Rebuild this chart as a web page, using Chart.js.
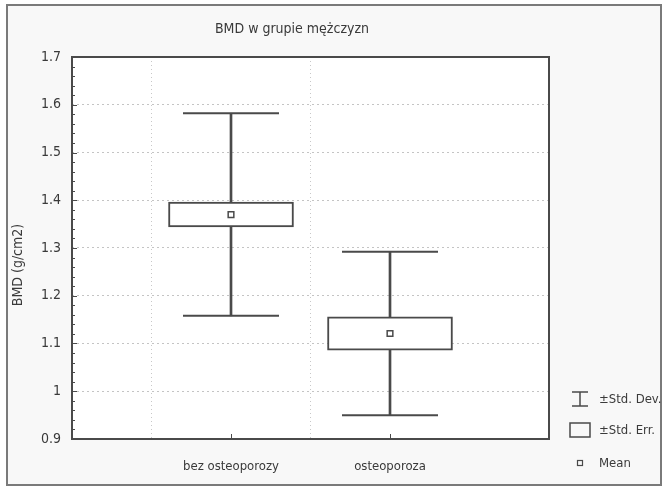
<!DOCTYPE html>
<html>
<head>
<meta charset="utf-8">
<script src="https://cdn.jsdelivr.net/npm/chart.js@4/dist/chart.umd.min.js"></script>
<style>
  html, body { margin: 0; padding: 0; background: #ffffff; }
  canvas { display: block; }
</style>
</head>
<body>
<canvas id="c" width="667" height="489"></canvas>
<script>
// Groups and summary statistics of BMD (g/cm2)
const categories = ['bez osteoporozy', 'osteoporoza'];
const means = [1.370, 1.121];
const stdErr = [0.026, 0.035];
const stdDev = [0.212, 0.171];

const yTickValues = [0.9, 1.0, 1.1, 1.2, 1.3, 1.4, 1.5, 1.6, 1.7];
const yTickLabels = ['0.9', '1', '1.1', '1.2', '1.3', '1.4', '1.5', '1.6', '1.7'];

const chartTitle = 'BMD w grupie mężczyzn';
const yAxisTitle = 'BMD (g/cm2)';

// Empty slots at both ends keep the two groups at 1/3 and 2/3 of the width
const xLabels = ['', ...categories, ''];

const INK = '#4a4a4a';
const TEXT = '#3a3a3a';
const FONT = '"DejaVu Sans Condensed", "Liberation Sans Narrow", "Arial Narrow", "Liberation Sans", Arial, sans-serif';

function slot(values) {
  return [null, ...values, null];
}

const sdRanges = slot(means.map((m, i) => [m - stdDev[i], m + stdDev[i]]));
const seRanges = slot(means.map((m, i) => [m - stdErr[i], m + stdErr[i]]));
const capPoints = [];
categories.forEach((c, i) => {
  capPoints.push({ x: c, y: means[i] + stdDev[i] });
  capPoints.push({ x: c, y: means[i] - stdDev[i] });
});
const meanPoints = categories.map((c, i) => ({ x: c, y: means[i] }));

// Background, outer frame, plot frame, titles and the legend block
const decorations = {
  id: 'decorations',
  beforeDraw(chart) {
    const ctx = chart.ctx;
    const a = chart.chartArea;
    ctx.save();
    ctx.fillStyle = '#ffffff';
    ctx.fillRect(0, 0, chart.width, chart.height);
    ctx.fillStyle = '#f8f8f8';
    ctx.fillRect(7, 5, 654, 480);
    ctx.strokeStyle = '#7a7a7a';
    ctx.lineWidth = 2;
    ctx.strokeRect(7, 5, 654, 480);
    ctx.fillStyle = '#ffffff';
    ctx.fillRect(a.left, a.top, a.right - a.left, a.bottom - a.top);
    ctx.restore();
  },
  afterDraw(chart) {
    const ctx = chart.ctx;
    const a = chart.chartArea;
    const ys = chart.scales.y;
    const xs = chart.scales.x;
    ctx.save();
    // plot frame
    ctx.strokeStyle = INK;
    ctx.lineWidth = 2;
    ctx.strokeRect(a.left, a.top, a.right - a.left, a.bottom - a.top);

    // inward tick marks: majors and minors on the value axis, one per group below
    ctx.lineWidth = 1;
    ctx.beginPath();
    for (let k = 0; k < yTickValues.length - 1; k++) {
      const lo = yTickValues[k], hi = yTickValues[k + 1];
      for (let s = 0; s <= 4; s++) {
        const py = Math.round(ys.getPixelForValue(lo + (hi - lo) * s / 5)) + 0.5;
        ctx.moveTo(a.left, py);
        ctx.lineTo(a.left + (s === 0 ? 5 : 3), py);
      }
    }
    categories.forEach(c => {
      const px = Math.round(xs.getPixelForValue(xLabels.indexOf(c))) + 0.5;
      ctx.moveTo(px, a.bottom);
      ctx.lineTo(px, a.bottom - 5);
    });
    ctx.stroke();

    // chart title
    ctx.fillStyle = TEXT;
    ctx.font = '14px ' + FONT;
    ctx.textAlign = 'center';
    ctx.textBaseline = 'middle';
    ctx.fillText(chartTitle, 292, 29);

    // vertical axis title
    ctx.save();
    ctx.translate(18, 265);
    ctx.rotate(-Math.PI / 2);
    ctx.font = '14px ' + FONT;
    ctx.fillText(yAxisTitle, 0, 0);
    ctx.restore();

    // legend
    const items = chart.data.datasets.filter(d => d.legendIcon);
    const rows = [399, 430, 463];
    const ix = 580;
    ctx.strokeStyle = INK;
    ctx.lineWidth = 1.5;
    items.forEach((d, k) => {
      const y = rows[k];
      ctx.beginPath();
      if (d.legendIcon === 'whisker') {
        ctx.moveTo(ix, y - 7); ctx.lineTo(ix, y + 7);
        ctx.moveTo(ix - 8, y - 7); ctx.lineTo(ix + 8, y - 7);
        ctx.moveTo(ix - 8, y + 7); ctx.lineTo(ix + 8, y + 7);
        ctx.stroke();
      } else if (d.legendIcon === 'box') {
        ctx.strokeRect(ix - 10, y - 7, 20, 14);
      } else {
        ctx.lineWidth = 1.2;
        ctx.strokeRect(ix - 2.5, y - 2.5, 5, 5);
      }
      ctx.fillStyle = TEXT;
      ctx.font = '13px ' + FONT;
      ctx.textAlign = 'left';
      ctx.textBaseline = 'middle';
      ctx.fillText(d.label, 599, y + 1);
    });
    ctx.restore();
  }
};

new Chart(document.getElementById('c'), {
  data: {
    labels: xLabels,
    datasets: [
      {
        type: 'bar',
        label: '±Std. Dev.',
        legendIcon: 'whisker',
        data: sdRanges,
        backgroundColor: INK,
        borderWidth: 0,
        barThickness: 2,
        grouped: false,
        order: 3
      },
      {
        type: 'line',
        label: 'caps',
        data: capPoints,
        showLine: false,
        pointStyle: 'line',
        pointRadius: 48,
        pointBorderWidth: 2,
        pointBorderColor: INK,
        order: 2
      },
      {
        type: 'bar',
        label: '±Std. Err.',
        legendIcon: 'box',
        data: seRanges,
        backgroundColor: '#ffffff',
        borderColor: INK,
        borderWidth: 2,
        borderSkipped: false,
        barThickness: 125,
        grouped: false,
        order: 1
      },
      {
        type: 'line',
        label: 'Mean',
        legendIcon: 'mean',
        data: meanPoints,
        showLine: false,
        pointStyle: 'rect',
        pointRadius: 4,
        pointBorderWidth: 1.5,
        pointBorderColor: INK,
        pointBackgroundColor: '#ffffff',
        order: 0
      }
    ]
  },
  options: {
    responsive: false,
    animation: false,
    events: [],
    layout: { padding: { left: 0, top: 57, right: 118, bottom: 0 } },
    plugins: {
      legend: { display: false },
      title: { display: false },
      tooltip: { enabled: false }
    },
    scales: {
      x: {
        type: 'category',
        offset: false,
        afterFit(scale) { scale.height = 43; },
        grid: {
          drawTicks: false,
          color: ctx => (ctx.index === 0 || ctx.index === xLabels.length - 1) ? 'rgba(0,0,0,0)' : '#c8c8c8',
          lineWidth: 1
        },
        border: { display: false, dash: [1, 3] },
        ticks: {
          autoSkip: false,
          maxRotation: 0,
          padding: 20,
          color: TEXT,
          font: { family: FONT, size: 13 }
        }
      },
      y: {
        type: 'linear',
        min: yTickValues[0],
        max: yTickValues[yTickValues.length - 1],
        afterFit(scale) { scale.width = 72; },
        afterBuildTicks(scale) { scale.ticks = yTickValues.map(v => ({ value: v })); },
        border: { display: false, dash: [2, 3] },
        grid: {
          drawTicks: false,
          color: ctx => (ctx.index === 0 || ctx.index === yTickValues.length - 1) ? 'rgba(0,0,0,0)' : '#c4c4c4',
          lineWidth: 1
        },
        ticks: {
          padding: 11,
          color: TEXT,
          font: { family: FONT, size: 14 },
          callback: (v, i) => yTickLabels[i]
        }
      }
    }
  },
  plugins: [decorations]
});
</script>
</body>
</html>
